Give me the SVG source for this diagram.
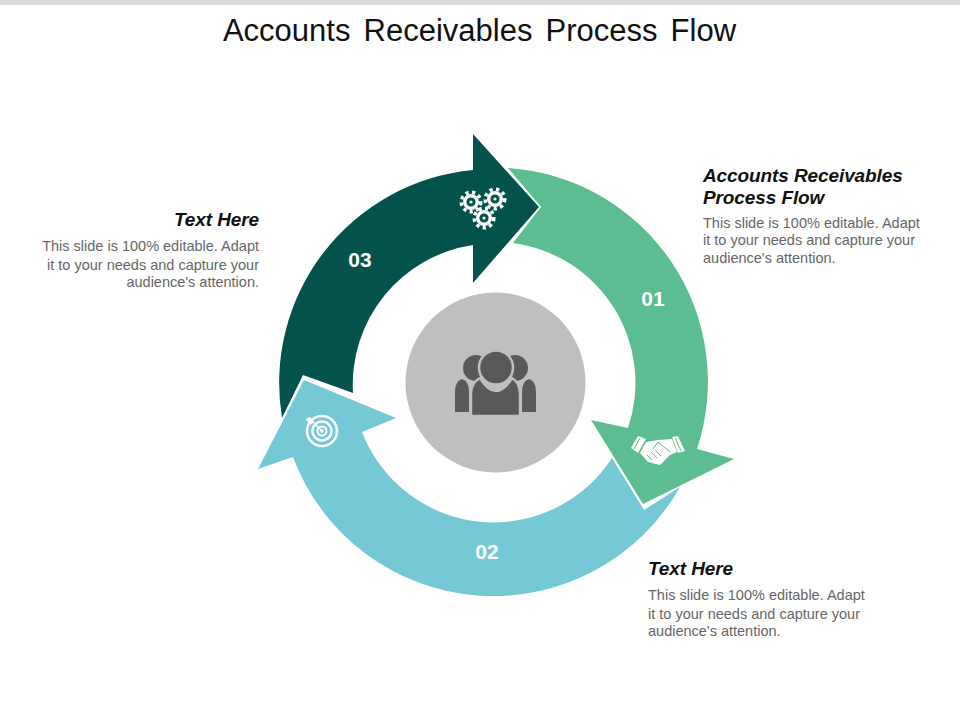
<svg xmlns="http://www.w3.org/2000/svg" width="960" height="720" viewBox="0 0 960 720">
<style>
text{font-family:"Liberation Sans",Arial,sans-serif}
.title{font-size:31px;fill:#111;text-anchor:middle;word-spacing:4.500px}
.h{font-size:19px;font-weight:bold;font-style:italic;fill:#111;letter-spacing:-.1px}
.b{font-size:14.500px;fill:#666}
.e{text-anchor:end}
.n{font-size:21px;font-weight:bold;fill:#fff;text-anchor:middle}
.ic{fill:#fff;stroke:none}
.pp{fill:#595959;stroke:#bfbfbf;stroke-width:2.500}
.gt{fill:none;stroke:#fff;stroke-width:3.500;stroke-dasharray:3.300 3.400}
.gr{fill:none;stroke:#fff;stroke-width:3.400}
.ring{fill:none;stroke:#fff}
.hl{fill:none;stroke:#5bbd91;stroke-width:1}
</style>
<defs>
<g id="gear"><circle class="gt" r="9.800"/><circle class="gr" r="6.300"/><circle r="1.600" fill="#fff"/></g>
</defs>
<rect x="0" y="0" width="960" height="5" fill="#d9d9d9"/>
<text class="title" x="479.500" y="41">Accounts Receivables Process Flow</text>
<g id="connectors">
<path id="arrow-01" fill="#5bbd91" d="M508 168A214 214 0 0 1 697 449L734 459L643 504L591 420L628 428A141 141 0 0 0 513 243L541 207Z"/>
<path id="arrow-02" fill="#75c9d6" d="M612 458L644 510L680 487A214 214 0 0 1 293 457L258 469L304 380L396 418L362 432A141 141 0 0 0 612 458Z"/>
<path id="arrow-03" fill="#03534c" d="M282 418A214 214 0 0 1 473 170L473 134L539 207L473 283L473 245A141 141 0 0 0 353 393L303 375Z"/>
</g>
<g id="node-center">
<circle cx="495.500" cy="382.500" r="90" fill="#bfbfbf"/>
<path d="M455 412V392Q455 381 462 379Q469 381 469 392V412ZM536 412V392Q536 381 529 379Q522 381 522 392V412Z" fill="#595959"/>
<circle cx="476" cy="368" r="13" fill="#595959"/>
<circle cx="515" cy="368" r="13" fill="#595959"/>
<path class="pp" d="M471 416V394Q471 383 480 378Q488 391 496 391Q504 391 512 378Q520 383 520 394V416Z"/>
<circle class="pp" cx="496" cy="367.500" r="17"/>
</g>
<g id="node-01">
<text class="n" x="653" y="306">01</text>
<g id="icon-handshake">
<path class="ic" d="M631 448L638 436L646 439L638 453ZM672 437L678 436L685 451L678 453Z"/>
<path class="ic" d="M646 442L658 440L672 439L677 452L670 455L660 465L648 462L640 453Z"/>
<path class="hl" d="M653 449L658 442L670 452M647 455L652 460M651 452L657 458M655 450L661 456M640 438L634 449M675 438L681 451"/>
</g>
<text class="h" x="703" y="182">Accounts Receivables</text>
<text class="h" x="703" y="204">Process Flow</text>
<text class="b" x="703" y="228">This slide is 100% editable. Adapt</text>
<text class="b" x="703" y="245">it to your needs and capture your</text>
<text class="b" x="703" y="263">audience's attention.</text>
</g>
<g id="node-02">
<text class="n" x="487" y="559">02</text>
<g id="icon-target">
<circle class="ring" cx="322" cy="431" r="15" stroke-width="2.500"/>
<circle class="ring" cx="322" cy="431" r="9.500" stroke-width="2.500"/>
<circle class="ring" cx="322" cy="431" r="4.500" stroke-width="2"/>
<circle cx="322" cy="431" r="1.800" fill="#fff"/>
<path d="M322 431L310 419" stroke="#fff" stroke-width="1.500"/>
<path class="ic" d="M306 419L310 417L314 422L310 425Z"/>
</g>
<text class="h" x="648" y="575">Text Here</text>
<text class="b" x="648" y="600">This slide is 100% editable. Adapt</text>
<text class="b" x="648" y="619">it to your needs and capture your</text>
<text class="b" x="648" y="636">audience's attention.</text>
</g>
<g id="node-03">
<text class="n" x="360" y="267">03</text>
<g id="icon-gears">
<use href="#gear" x="471" y="202"/>
<use href="#gear" x="495" y="199"/>
<use href="#gear" x="484" y="218"/>
</g>
<text class="h e" x="259" y="226">Text Here</text>
<text class="b e" x="259" y="251">This slide is 100% editable. Adapt</text>
<text class="b e" x="259" y="270">it to your needs and capture your</text>
<text class="b e" x="259" y="287">audience's attention.</text>
</g>
</svg>
